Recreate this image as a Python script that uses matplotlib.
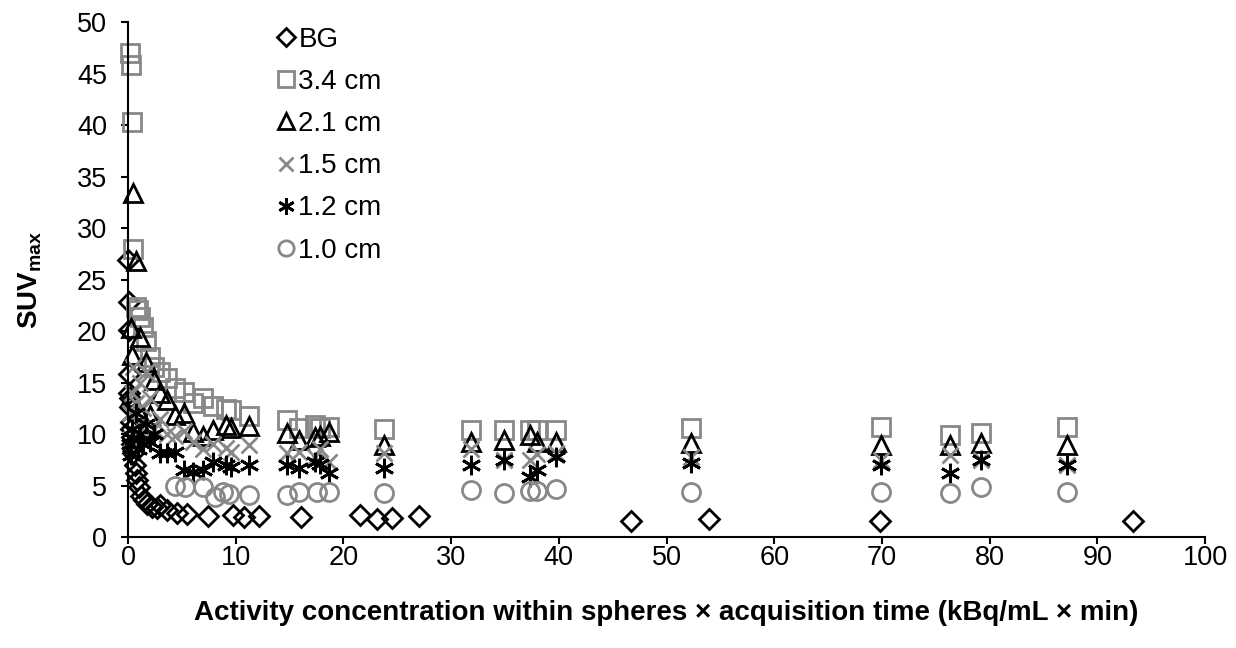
import numpy as np
from matplotlib import pyplot as plt

plt.rcParams["font.family"] = ["Liberation Sans", "DejaVu Sans"]
plt.rcParams["mathtext.fontset"] = "custom"
plt.rcParams["mathtext.rm"] = "Liberation Sans"
plt.rcParams["mathtext.bf"] = "Liberation Sans:bold"

# background (BG) points
bg_x = [0.02, 0.05, 0.08, 0.1, 0.12, 0.15, 0.2, 0.25, 0.3, 0.35, 0.4, 0.5, 0.6, 0.7,
        0.8, 1.0, 1.2, 1.5, 1.8, 2.2, 2.7, 3.0, 3.6, 4.5, 5.5, 7.4, 9.7, 10.8, 12.2,
        16.1, 21.5, 23.1, 24.5, 27.0, 46.7, 53.9, 69.8, 93.3]
bg_y = [26.9, 22.8, 20.1, 15.8, 14.0, 13.5, 12.6, 11.2, 10.5, 9.7, 9.0, 8.2, 7.0, 6.2,
        5.5, 4.9, 4.0, 3.6, 3.2, 2.9, 2.8, 3.1, 2.6, 2.3, 2.2, 2.0, 2.1, 1.9, 2.0,
        1.9, 2.1, 1.7, 1.8, 2.0, 1.6, 1.7, 1.6, 1.6]

# sphere acquisitions (activity conc. x time)
sph_x = [0.2, 0.3, 0.4, 0.5, 0.7, 0.9, 1.1, 1.4, 1.7, 2.0, 2.4, 3.0, 3.6, 4.4, 5.2,
         6.0, 7.0, 7.9, 9.1, 9.6, 11.2, 14.8, 15.9, 17.4, 17.8, 18.7, 23.8, 31.8,
         34.9, 37.3, 38.0, 39.7, 52.3, 69.9, 76.3, 79.2, 87.2]
y_34 = [47.0, 45.8, 40.3, 28.0, 22.3, 22.0, 21.4, 20.4, 19.0, 17.5, 16.5, 16.0, 15.4,
        14.5, 14.1, 13.0, 13.5, 12.7, 12.4, 12.3, 11.7, 11.4, 10.6, 10.9, 10.6, 10.7,
        10.5, 10.4, 10.4, 10.4, 10.4, 10.4, 10.6, 10.7, 9.9, 10.1, 10.7]
y_21 = [13.6, 20.3, 17.7, 33.4, 26.8, 12.3, 19.4, 10.4, 17.0, 11.8, 15.2, 14.0, 13.3,
        11.8, 12.0, 10.2, 9.8, 10.4, 10.9, 10.6, 10.8, 10.1, 9.4, 9.7, 9.8, 10.2,
        8.9, 9.2, 9.4, 9.9, 9.2, 9.2, 9.1, 8.9, 8.9, 9.1, 8.9]
y_15 = [12.0, 9.5, 14.0, 16.5, 13.0, 11.0, 15.0, 12.5, 16.0, 13.5, 10.5, 11.5, 10.0,
        9.8, 10.3, 9.2, 8.5, 9.0, 8.6, 8.3, 8.9, 8.2, 8.3, 7.8, 8.5, 7.3, 8.2, 8.5,
        7.5, 7.5, 8.1, 8.2, 7.8, 7.5, 8.0, 7.5, 7.0]
y_12 = [9.0, 8.0, 10.5, 9.5, 12.0, 8.5, 10.0, 9.0, 11.0, 9.2, 10.0, 8.2, 8.2, 8.3,
        6.5, 6.3, 6.5, 7.3, 7.0, 6.8, 7.0, 7.0, 6.7, 7.3, 7.1, 6.2, 6.7, 7.0, 7.5,
        5.8, 6.5, 7.8, 7.2, 7.0, 6.2, 7.5, 7.0]
# 1.0 cm sphere only seen from ~4 kBq/mL x min upwards
x_10 = [4.4, 5.3, 7.0, 8.1, 8.8, 9.4, 11.2, 14.8, 15.9, 17.5, 18.7, 23.8, 31.8, 34.9,
        37.3, 38.0, 39.7, 52.3, 69.9, 76.3, 79.2, 87.2]
y_10 = [5.0, 4.9, 4.9, 3.9, 4.4, 4.2, 4.1, 4.1, 4.4, 4.4, 4.4, 4.3, 4.6, 4.3, 4.5,
        4.5, 4.7, 4.4, 4.4, 4.3, 4.9, 4.4]

grey = "#888888"
series = [
    ("BG", bg_x, bg_y, "D", "black", 10.5),
    ("3.4 cm", sph_x, y_34, "s", grey, 13),
    ("2.1 cm", sph_x, y_21, "^", "black", 13),
    ("1.5 cm", sph_x, y_15, "x", grey, 12),
    ("1.2 cm", sph_x, y_12, (6, 2, 0), "black", 14),
    ("1.0 cm", x_10, y_10, "o", grey, 13),
]

fig = plt.figure(figsize=(12.36, 6.48), dpi=100)
ax = fig.add_axes([0.1036, 0.1713, 0.8714, 0.7947])

for label, x, y, m, c, ms in series:
    ax.plot(x, y, linestyle="none", marker=m, markersize=ms, markerfacecolor="none",
            markeredgecolor=c, markeredgewidth=2.0, label=label, clip_on=False)

ax.set_xlim(0, 100)
ax.set_ylim(0, 50)
ax.set_xticks(np.arange(0, 101, 10))
ax.set_yticks(np.arange(0, 51, 5))
ax.spines["top"].set_visible(False)
ax.spines["right"].set_visible(False)
ax.spines["left"].set_linewidth(1.5)
ax.spines["bottom"].set_linewidth(1.5)
ax.tick_params(axis="both", labelsize=19.5, length=5, width=1.5)
ax.tick_params(axis="x", pad=0.5)
ax.tick_params(axis="y", pad=10)

ax.set_xlabel("Activity concentration within spheres × acquisition time (kBq/mL × min)",
              fontsize=20, fontweight="bold", labelpad=21)
ax.set_ylabel(r"SUV$_{\mathbf{max}}$", fontsize=20, fontweight="bold", labelpad=24)

ax.legend(loc="upper left", bbox_to_anchor=(0.126, 1.012), frameon=False, fontsize=20,
          handletextpad=0.05, handlelength=0.8, labelspacing=0.58, markerscale=0.85,
          borderaxespad=0.0)

plt.savefig("out.png", dpi=100)
